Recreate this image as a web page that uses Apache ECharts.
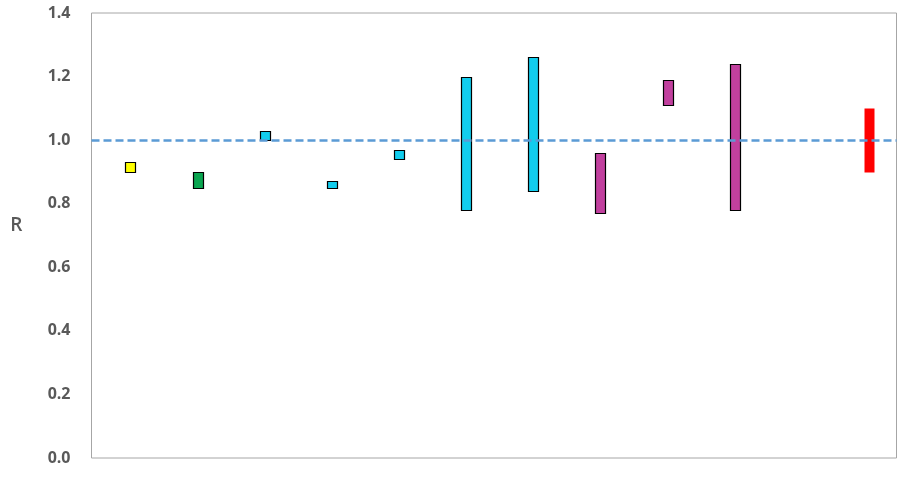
<!DOCTYPE html>
<html>
<head>
<meta charset="utf-8">
<script src="https://cdn.jsdelivr.net/npm/echarts@6/dist/echarts.min.js"></script>
<style>html,body{margin:0;padding:0;background:#fff}#c{width:908px;height:481px}</style>
</head>
<body>
<div id="c"></div>
<script>
var positions = [1, 2, 3, 4, 5, 6, 7, 8, 9, 10, 12];
var lows  = [0.90, 0.85, 1.00, 0.85, 0.94, 0.78, 0.84, 0.77, 1.11, 0.78, 0.90];
var highs = [0.93, 0.90, 1.03, 0.87, 0.97, 1.20, 1.26, 0.96, 1.19, 1.24, 1.10];
var fills = ['#FFFF00', '#0AA550', '#12CDEE', '#12CDEE', '#12CDEE', '#12CDEE', '#12CDEE', '#C1409E', '#C1409E', '#C1409E', '#FF0000'];
var borders = ['#000', '#000', '#000', '#000', '#000', '#000', '#000', '#000', '#000', '#000', null];
var yTicks = [0, 0.2, 0.4, 0.6, 0.8, 1.0, 1.2, 1.4];
var refValue = 1.0;

var rangeData = positions.map(function (p, i) { return [p, lows[i], highs[i], i]; });

var chart = echarts.init(document.getElementById('c'), null, { renderer: 'canvas' });
chart.setOption({
  animation: false,
  backgroundColor: '#fff',
  grid: {
    left: 91.5, right: 11.5, top: 13, bottom: 23,
    show: true, borderColor: '#A6A6A6', borderWidth: 1, backgroundColor: 'transparent'
  },
  xAxis: {
    type: 'value', min: 0.42, max: 12.41,
    axisLine: { show: false }, axisTick: { show: false },
    axisLabel: { show: false }, splitLine: { show: false }
  },
  yAxis: {
    type: 'value', min: 0, max: 1.4, interval: 0.2,
    name: 'R', nameLocation: 'middle', nameRotate: 0, nameGap: 69,
    nameTextStyle: { color: '#595959', fontSize: 19, fontFamily: 'Open Sans', fontWeight: 600, verticalAlign: 'bottom' },
    axisLine: { show: false }, axisTick: { show: false }, splitLine: { show: false },
    axisLabel: {
      margin: 21, color: '#595959', fontSize: 16, fontWeight: 'bold', fontFamily: 'Open Sans',
      formatter: function (v) { return v.toFixed(1); }
    }
  },
  series: [
    {
      type: 'line', data: [], silent: true,
      markLine: {
        symbol: 'none', silent: true, label: { show: false },
        lineStyle: { color: '#5B9BD5', width: 2.5, type: [8, 4] },
        data: [{ yAxis: refValue }]
      }
    },
    {
      type: 'custom', z: 3,
      encode: { x: 0, y: [1, 2] },
      data: rangeData,
      renderItem: function (params, api) {
        var x = api.value(0);
        var i = api.value(3);
        var top = api.coord([x, api.value(2)]);
        var bot = api.coord([x, api.value(1)]);
        var w = 10;
        var hasBorder = !!borders[i];
        return {
          type: 'rect',
          shape: { x: Math.round(top[0] - w / 2) + 0.5, y: Math.round(top[1]) + 0.5, width: w, height: Math.round(bot[1]) - Math.round(top[1]) },
          style: {
            fill: fills[i],
            stroke: hasBorder ? borders[i] : null,
            lineWidth: hasBorder ? 1.2 : 0
          }
        };
      }
    }
  ]
});
</script>
</body>
</html>
